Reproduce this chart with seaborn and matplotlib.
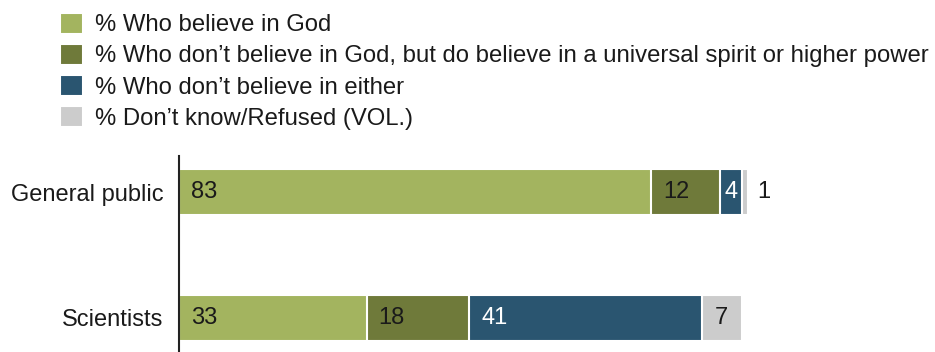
import matplotlib
matplotlib.use("Agg")
import matplotlib.pyplot as plt
import seaborn as sns
import numpy as np
import pandas as pd

categories = ["General public", "Scientists"]
series_names = [
    "% Who believe in God",
    "% Who don\u2019t believe in God, but do believe in a universal spirit or higher power",
    "% Who don\u2019t believe in either",
    "% Don\u2019t know/Refused (VOL.)",
]
believe_god = [83, 33]
higher_power = [12, 18]
neither = [4, 41]
dont_know = [1, 7]
colors = ["#a3b45f", "#6f7a3a", "#2a5570", "#cccccc"]
label_colors = ["#1a1a1a", "#1a1a1a", "white", "#1a1a1a"]

sns.set_theme(style="white")
plt.rcParams["font.family"] = ["Liberation Sans", "DejaVu Sans"]

W, H = 935, 352
fig = plt.figure(figsize=(W / 100, H / 100), dpi=100)
ax_left, ax_right = 179, 935
ax_top, ax_bot = 156, 352
ax = fig.add_axes([ax_left / W, 1 - ax_bot / H, (ax_right - ax_left) / W, (ax_bot - ax_top) / H])

values = np.array([believe_god, higher_power, neither, dont_know], dtype=float)
cum = np.cumsum(values, axis=0)

for i in range(len(series_names) - 1, -1, -1):
    df = pd.DataFrame({"cat": categories, "val": cum[i]})
    sns.barplot(data=df, x="val", y="cat", orient="h", color=colors[i], saturation=1,
                width=0.365, edgecolor="white", linewidth=1.5, ax=ax, label=series_names[i])

fs = 17
for j, cat in enumerate(categories):
    for i in range(len(series_names)):
        v = values[i, j]
        left = cum[i, j] - v
        if v >= 5:
            ax.text(left + 2.1, j, f"{int(v)}", va="center", ha="left", fontsize=fs,
                    color=label_colors[i])
        elif v >= 3:
            ax.text(left + v / 2, j, f"{int(v)}", va="center", ha="center", fontsize=fs,
                    color=label_colors[i])
        else:
            ax.text(cum[i, j] + 1.6, j, f"{int(v)}", va="center", ha="left", fontsize=fs,
                    color="#1a1a1a")

ax.set_xlim(0, (ax_right - ax_left) / 5.69)
ax.set_ylim(1.27, -0.286)
ax.set_xlabel("")
ax.set_ylabel("")
ax.set_xticks([])
ax.tick_params(axis="y", length=0, pad=11, labelsize=fs, labelcolor="#1a1a1a")
for s in ["top", "right", "bottom"]:
    ax.spines[s].set_visible(False)
ax.spines["left"].set_color("#222222")
ax.spines["left"].set_linewidth(1.5)
if ax.get_legend() is not None:
    ax.get_legend().remove()

h, l = ax.get_legend_handles_labels()
order = [l.index(n) for n in series_names]
fig.legend([h[k] for k in order], [l[k] for k in order], loc="upper left",
           bbox_to_anchor=(50 / W, 1 - 3 / H), frameon=False, fontsize=17.2,
           handlelength=1.0, handleheight=1.0, handletextpad=0.5,
           labelspacing=0.3, borderaxespad=0, labelcolor="#1a1a1a")

fig.savefig("out.png", dpi=100)
